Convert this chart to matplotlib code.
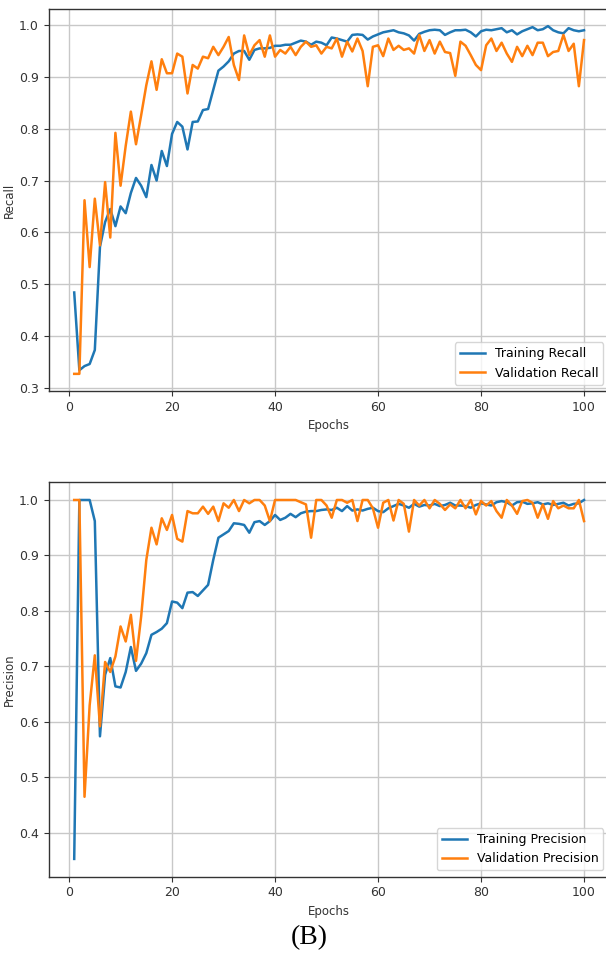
import numpy as np
import matplotlib
matplotlib.use('Agg')
import matplotlib.pyplot as plt

# valores (100 epocas)
epocas = np.arange(1, 101)

recall_train = [
    0.484, 0.334, 0.342, 0.346, 0.373, 0.572, 0.620, 0.645, 0.612, 0.650,
    0.637, 0.676, 0.705, 0.690, 0.668, 0.730, 0.700, 0.757, 0.728, 0.790,
    0.813, 0.804, 0.760, 0.813, 0.814, 0.836, 0.838, 0.875, 0.912, 0.920,
    0.930, 0.945, 0.950, 0.950, 0.933, 0.952, 0.955, 0.955, 0.956, 0.960,
    0.960, 0.962, 0.962, 0.966, 0.970, 0.968, 0.962, 0.968, 0.966, 0.961,
    0.976, 0.974, 0.971, 0.968, 0.981, 0.982, 0.981, 0.972, 0.978, 0.982,
    0.986, 0.988, 0.990, 0.986, 0.984, 0.980, 0.970, 0.983, 0.987, 0.990,
    0.991, 0.990, 0.981, 0.986, 0.990, 0.990, 0.991, 0.986, 0.978, 0.988,
    0.991, 0.990, 0.992, 0.994, 0.986, 0.990, 0.982, 0.988, 0.992, 0.996,
    0.990, 0.992, 0.998, 0.990, 0.986, 0.984, 0.994, 0.990, 0.988, 0.990]

recall_val = [
    0.327, 0.327, 0.662, 0.533, 0.665, 0.575, 0.697, 0.590, 0.792, 0.690,
    0.767, 0.833, 0.770, 0.826, 0.884, 0.930, 0.875, 0.934, 0.907, 0.907,
    0.945, 0.939, 0.868, 0.923, 0.916, 0.939, 0.936, 0.958, 0.942, 0.958,
    0.977, 0.923, 0.894, 0.980, 0.942, 0.961, 0.971, 0.939, 0.980, 0.939,
    0.952, 0.945, 0.958, 0.942, 0.958, 0.968, 0.958, 0.961, 0.945, 0.958,
    0.955, 0.974, 0.939, 0.968, 0.949, 0.974, 0.950, 0.882, 0.958, 0.961,
    0.940, 0.974, 0.952, 0.960, 0.952, 0.955, 0.945, 0.981, 0.950, 0.971,
    0.945, 0.968, 0.948, 0.946, 0.902, 0.968, 0.960, 0.942, 0.923, 0.913,
    0.961, 0.974, 0.950, 0.966, 0.945, 0.929, 0.958, 0.940, 0.960, 0.942,
    0.966, 0.966, 0.940, 0.948, 0.950, 0.981, 0.950, 0.964, 0.882, 0.971]

precision_train = [
    0.353, 1.000, 1.000, 1.000, 0.962, 0.574, 0.685, 0.715, 0.664, 0.662,
    0.690, 0.735, 0.692, 0.705, 0.724, 0.757, 0.762, 0.768, 0.778, 0.817,
    0.815, 0.805, 0.833, 0.834, 0.827, 0.837, 0.847, 0.892, 0.932, 0.938,
    0.944, 0.958, 0.957, 0.955, 0.941, 0.960, 0.962, 0.955, 0.962, 0.973,
    0.964, 0.968, 0.975, 0.969, 0.976, 0.979, 0.980, 0.980, 0.982, 0.983,
    0.982, 0.986, 0.980, 0.989, 0.981, 0.983, 0.981, 0.984, 0.986, 0.980,
    0.978, 0.985, 0.989, 0.993, 0.990, 0.986, 0.993, 0.988, 0.991, 0.990,
    0.993, 0.989, 0.991, 0.995, 0.990, 0.990, 0.989, 0.986, 0.991, 0.994,
    0.992, 0.990, 0.996, 0.998, 0.996, 0.990, 0.996, 0.997, 0.993, 0.994,
    0.996, 0.992, 0.994, 0.991, 0.993, 0.995, 0.990, 0.993, 0.994, 1.000]

precision_val = [
    1.000, 1.000, 0.465, 0.630, 0.720, 0.592, 0.708, 0.690, 0.718, 0.772,
    0.745, 0.793, 0.710, 0.790, 0.892, 0.950, 0.920, 0.967, 0.946, 0.973,
    0.930, 0.925, 0.980, 0.976, 0.976, 0.988, 0.975, 0.988, 0.962, 0.994,
    0.986, 1.000, 0.980, 1.000, 0.994, 1.000, 1.000, 0.990, 0.962, 1.000,
    1.000, 1.000, 1.000, 1.000, 0.996, 0.992, 0.932, 1.000, 1.000, 0.990,
    0.968, 1.000, 1.000, 0.995, 1.000, 0.962, 1.000, 1.000, 0.985, 0.950,
    0.995, 1.000, 0.963, 1.000, 0.993, 0.943, 1.000, 0.990, 1.000, 0.985,
    1.000, 0.993, 0.982, 0.992, 0.985, 1.000, 0.985, 1.000, 0.974, 0.998,
    0.990, 0.998, 0.980, 0.968, 1.000, 0.990, 0.975, 0.998, 1.000, 0.995,
    0.968, 0.992, 0.966, 0.998, 0.985, 0.990, 0.985, 0.985, 1.000, 0.962]

plt.rcParams['font.family'] = ['DejaVu Sans']
plt.rcParams['axes.edgecolor'] = '#333333'
plt.rcParams['axes.linewidth'] = 1.0

fig = plt.figure(figsize=(6.06, 9.67), dpi=100)

# el eje se sale un poco por la derecha, como en la imagen original
ax1 = fig.add_axes([0.0804, 0.5957, 0.9254, 0.395])
ax2 = fig.add_axes([0.0804, 0.0934, 0.9254, 0.4082])

paneles = [
    (ax1, recall_train, recall_val, 'Recall', 'Training Recall', 'Validation Recall', (0.294, 1.031)),
    (ax2, precision_train, precision_val, 'Precision', 'Training Precision', 'Validation Precision', (0.321, 1.0325)),
]

for ax, train, val, nombre, lab_t, lab_v, lim in paneles:
    ax.plot(epocas, train, color='#1f77b4', lw=1.8, label=lab_t)
    ax.plot(epocas, val, color='#ff7f0e', lw=1.8, label=lab_v)
    ax.set_xlim(-3.95, 104.95)
    ax.set_ylim(*lim)
    ax.set_xticks([0, 20, 40, 60, 80, 100])
    ax.grid(True, color='#c8c8c8', lw=1.0)
    ax.tick_params(labelsize=9, colors='#333333')
    ax.set_xlabel('Epochs', fontsize=8.5, color='#333333')
    ax.set_ylabel(nombre, fontsize=8.5, color='#333333')
    # etiqueta del eje y cerca de los numeros, sin pisarlos
    ax.yaxis.set_label_coords(-0.058, 0.5)
    ax.legend(loc='lower right', fontsize=9, framealpha=0.8)

fig.text(0.51, 0.017, '(B)', family='Liberation Serif', fontsize=20, ha='center', va='bottom')

fig.savefig('out.png', dpi=100)
